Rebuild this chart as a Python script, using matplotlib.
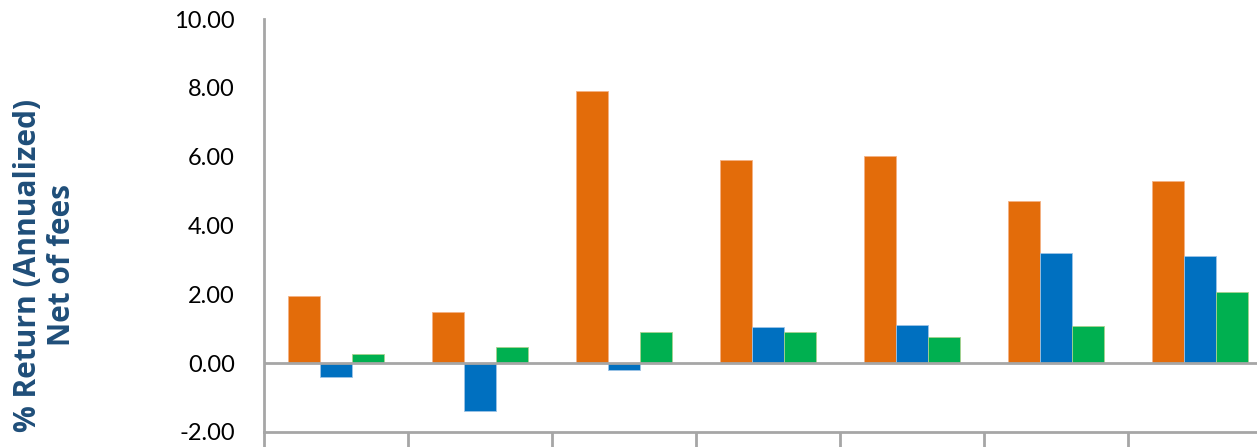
import matplotlib.pyplot as plt
import numpy as np

# values (% return, annualized, net of fees)
groups = ["1", "2", "3", "4", "5", "6", "7"]
orange_vals = [1.95, 1.48, 7.91, 5.90, 6.02, 4.70, 5.28]
blue_vals = [-0.41, -1.40, -0.20, 1.05, 1.10, 3.20, 3.12]
green_vals = [0.26, 0.47, 0.90, 0.90, 0.76, 1.08, 2.07]
y_ticks = [-2, 0, 2, 4, 6, 8, 10]

orange = "#E36C0A"
blue = "#0070C0"
green = "#00B050"
axis_gray = "#A6A6A6"
label_blue = "#1F4E79"

fig = plt.figure(figsize=(12.57, 4.47), dpi=100)
# the original is cropped at the bottom and right, so the axes run past the edge
ax = fig.add_axes([264 / 1257, 15 / 447, 1008 / 1257, 413 / 447])

x = np.arange(len(groups))
w = 0.222
ax.bar(x - w, orange_vals, w, color=orange, edgecolor="#F4B183", linewidth=0.6, zorder=2)
ax.bar(x, blue_vals, w, color=blue, edgecolor="#9DC3E6", linewidth=0.6, zorder=2)
ax.bar(x + w, green_vals, w, color=green, edgecolor="#A9D18E", linewidth=0.6, zorder=2)

ax.axhline(0, color=axis_gray, lw=2, zorder=3)

ax.set_xlim(-0.5, len(groups) - 0.5)
ax.set_ylim(-2, 10)
ax.set_yticks(y_ticks)
ax.set_yticklabels(["%.2f" % v for v in y_ticks])
ax.set_xticks(np.arange(len(groups) + 1) - 0.5)
ax.set_xticklabels([])

for s in ["top", "right"]:
    ax.spines[s].set_visible(False)
for s in ["left", "bottom"]:
    ax.spines[s].set_color(axis_gray)
    ax.spines[s].set_linewidth(2)

ax.tick_params(axis="y", length=0, pad=21, labelsize=17, labelcolor="black")
ax.tick_params(axis="x", direction="out", length=25, width=2, color=axis_gray)
for lab in ax.get_yticklabels():
    lab.set_fontfamily("Lato")

fig.text(45 / 1257, 1 - 265 / 447, "% Return (Annualized)\nNet of fees",
         rotation=90, ha="center", va="center", multialignment="center",
         fontsize=21.5, fontweight="bold", color=label_blue, family="Open Sans",
         linespacing=1.18)

fig.savefig("out.png", dpi=100)
